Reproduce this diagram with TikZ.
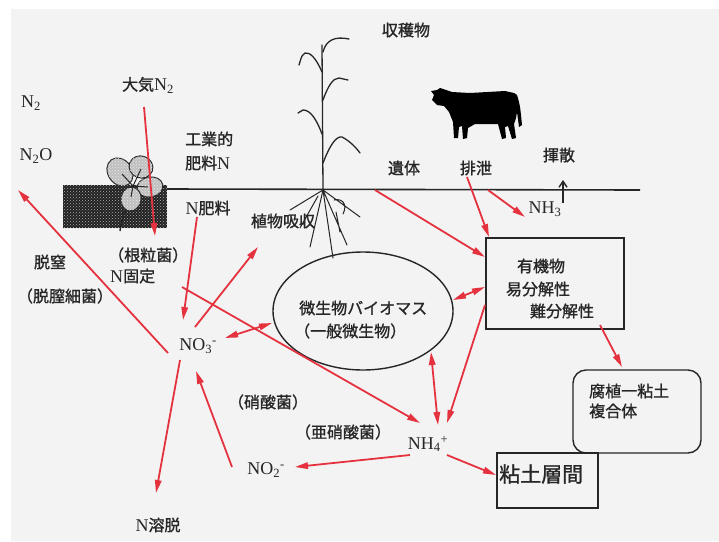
\documentclass[tikz,border=0pt]{standalone}
\usepackage{fontspec}
\setmainfont{Liberation Serif}
\newfontfamily\jpf[FakeBold=1.2]{Noto Sans CJK JP}
\usetikzlibrary{arrows.meta,patterns}
\definecolor{page}{HTML}{F3F3F3}
\definecolor{flow}{HTML}{E5323F}
\definecolor{ink}{HTML}{262626}
\newcommand\chemtxt[1]{{\rmfamily\fontsize{18}{20}\selectfont #1}}

\tikzset{
  jp/.style={font=\jpf\fontsize{16}{19}\selectfont, inner sep=0pt, text=ink},
  chem/.style={font=\rmfamily\fontsize{18}{20}\selectfont, inner sep=0pt, text=ink},
  tip/.tip={Triangle[length=13pt,width=6.5pt]},
  flowarrow/.style={draw=flow, line width=1.8pt, -tip},
  flowboth/.style={draw=flow, line width=1.8pt, tip-tip},
  plantline/.style={draw=ink, line width=1.3pt, line cap=round},
  frame/.style={draw=ink, line width=1.4pt, inner sep=0pt},
  leaf/.style={fill=gray!50, draw=ink, line width=1pt},
}

\begin{document}
\begin{tikzpicture}[x=1pt,y=-1pt]
  % page
  \useasboundingbox (0,0) rectangle (719,541);
  \fill[white] (0,0) rectangle (719,541);
  \fill[page] (11,9) rectangle (719,541);

  % ground surface
  \draw[ink, line width=1.6pt] (167,189) -- (640,190);

  % soil block with clover
  \fill[gray!25!black] (63,185) rectangle (167,228);
  \fill[pattern=crosshatch dots, pattern color=gray!60] (63,185) rectangle (167,228);
  \draw[ink, line width=1.4pt] (133,186) .. controls (128,205) and (122,215) .. (120,231);
  \foreach \cx/\cy/\rx/\ry/\r in {120/172/12/15/35, 141/167/12/11/-20, 150/187/13/10/10, 131/199/10/12/-10}{
    \filldraw[leaf] (\cx,\cy) ellipse [x radius=\rx, y radius=\ry, rotate=\r];
    \fill[pattern=crosshatch dots, pattern color=gray!15] (\cx,\cy) ellipse [x radius=\rx, y radius=\ry, rotate=\r];
  }
  \draw[ink, line width=1pt] (133,186) -- (122,174) (133,186) -- (141,169)
    (133,186) -- (148,187) (133,186) -- (131,197);

  % maize plant
  \draw[plantline] (323,190) -- (322,45);
  \draw[plantline] (323,52) .. controls (326,40) and (335,36) .. (349,39);
  \draw[plantline] (322,72) .. controls (316,58) and (310,52) .. (305,53) .. controls (302,55) .. (299,65);
  \draw[plantline] (323,100) .. controls (328,86) and (333,78) .. (339,78) -- (348,80);
  \draw[plantline] (322,134) .. controls (316,118) and (310,110) .. (303,110) -- (298,113);
  \draw[plantline] (323,163) .. controls (330,145) and (336,136) .. (342,137) .. controls (348,140) and (355,146) .. (360,153);
  % roots
  \draw[plantline, line width=1pt] (323,190) -- (290,210)
    (323,190) -- (310,247) (323,190) -- (333,258) (323,190) -- (347,245)
    (323,190) -- (360,217) (318,196) -- (300,228)
    (334,200) .. controls (342,198) and (348,204) .. (343,214)
    (336,212) -- (340,232);

  % cow
  \fill[black] (440,88) -- (452,92) -- (470,93) -- (505,91) -- (514,93) -- (517,95)
    .. controls (520,105) .. (522,125) -- (519,127) -- (517,112) -- (516,118)
    -- (514,124) -- (516,138) -- (512,139) -- (508,126) -- (505,127) -- (506,138)
    -- (502,139) -- (498,124) -- (475,124) -- (468,128) -- (467,138) -- (463,139)
    -- (462,126) -- (459,127) -- (458,138) -- (454,138) -- (453,122) -- (449,112)
    -- (444,106) -- (437,105) -- (432,100) -- (434,95) -- (431,91) -- (437,90) -- cycle;

  % texts above ground
  \node[chem] (n2) at (31,103) {N\textsubscript{2}};
  \node[chem] (n2o) at (36,156) {N\textsubscript{2}O};
  \node[jp] (atm) at (148,85) {大気\chemtxt{N\textsubscript{2}}};
  \node[jp, anchor=west] (ind1) at (185,139) {工業的};
  \node[jp, anchor=west] (ind2) at (185,163) {肥料\chemtxt{N}};
  \node[jp] (harvest) at (406,30) {収穫物};
  \node[jp] (residue) at (404,168) {遺体};
  \node[jp] (excr) at (476,168) {排泄};
  \node[jp] (volat) at (559,155) {揮散};
  \node[chem] (nh3) at (545,209) {NH\textsubscript{3}};

  % texts below ground
  \node[jp] (nfert) at (208,208) {\chemtxt{N}肥料};
  \node[jp] (uptake) at (283,221) {植物吸収};
  \node[jp, anchor=west] (rhizo) at (108,255) {（根粒菌）};
  \node[jp, anchor=west] (nfix) at (110,276) {\chemtxt{N}固定};
  \node[jp] (denit) at (50,262) {脱窒};
  \node[jp] (denitb) at (65,296) {（脱膣細菌）};
  \node[chem] (no3) at (198,346) {NO\textsubscript{3}\textsuperscript{-}};
  \node[chem] (nh4) at (428,444) {NH\textsubscript{4}\textsuperscript{+}};
  \node[chem] (no2) at (266,470) {NO\textsubscript{2}\textsuperscript{-}};
  \node[jp] (nitrob) at (268,402) {（硝酸菌）};
  \node[jp] (nitros) at (343,432) {（亜硝酸菌）};
  \node[jp] (leach) at (158,525) {\chemtxt{N}溶脱};

  % microbial biomass
  \draw[ink, line width=1.4pt] (363,311) ellipse [x radius=90, y radius=59];
  \coordinate (mb) at (363,311);
  \node[jp, anchor=west] (mb1) at (299,308) {微生物バイオマス};
  \node[jp, anchor=west] (mb2) at (294,331) {（一般微生物）};

  % organic matter
  \node[frame, minimum width=138pt, minimum height=91pt] (om) at (555,283.5) {};
  \node[jp] (om1) at (541,266) {有機物};
  \node[jp] (om2) at (538,289) {易分解性};
  \node[jp] (om3) at (562,311) {難分解性};

  % humus-clay complex and clay interlayer
  \node[frame, rounded corners=13pt, minimum width=128pt, minimum height=83pt] (hum) at (637,411.5) {};
  \node[jp, anchor=west] (hum1) at (589,391) {腐植一粘土};
  \node[jp, anchor=west] (hum2) at (589,411) {複合体};
  \node[frame, fill=page, minimum width=101pt, minimum height=55pt] (clay) at (547.5,480.5) {};
  \node[jp, font=\jpf\fontsize{21}{24}\selectfont, anchor=west] (clay1) at (499,474) {粘土層間};

  % arrow end points
  \coordinate (atmE) at (155,236);   \coordinate (atmS) at (144,107);
  \coordinate (nfS) at (197,217);    \coordinate (nfE) at (183,320);
  \coordinate (no3up) at (195,327);  \coordinate (upE) at (258,247);
  \coordinate (no3r) at (225,338);   \coordinate (mbL) at (272,323);
  \coordinate (fixS) at (182,287);   \coordinate (nh4tl) at (420,423);
  \coordinate (no3dn) at (168,353);  \coordinate (denE) at (18,190);
  \coordinate (resS) at (375,190);   \coordinate (omL1) at (485,257);
  \coordinate (exS) at (467,177);    \coordinate (omT) at (489,237);
  \coordinate (exS2) at (488,190);   \coordinate (nh3E) at (525,217);
  \coordinate (mbR) at (453,300);    \coordinate (omL2) at (485,287);
  \coordinate (omL3) at (485,305);   \coordinate (nh4tr) at (447,423);
  \coordinate (mbB) at (431,352);    \coordinate (nh4t) at (438,425);
  \coordinate (omB) at (600,325);    \coordinate (humT) at (622,367);
  \coordinate (nh4r) at (447,455);   \coordinate (clayL) at (496,475);
  \coordinate (nh4l) at (410,455);   \coordinate (no2r) at (295,467);
  \coordinate (no2l) at (232,467);   \coordinate (no3b) at (196,371);
  \coordinate (no3bl) at (180,360);  \coordinate (leachT) at (156,493);
  \coordinate (nh3T) at (563,203);   \coordinate (volE) at (563,180);

  % nitrogen flows
  \draw[flowarrow] (atmS) -- (atmE);
  \draw[flowarrow] (nfS) -- (nfE);
  \draw[flowarrow] (no3up) -- (upE);
  \draw[flowboth] (no3r) -- (mbL);
  \draw[flowarrow] (fixS) -- (nh4tl);
  \draw[flowarrow] (no3dn) -- (denE);
  \draw[flowarrow] (resS) -- (omL1);
  \draw[flowarrow] (exS) -- (omT);
  \draw[flowarrow] (exS2) -- (nh3E);
  \draw[flowboth] (mbR) -- (omL2);
  \draw[flowarrow] (omL3) -- (nh4tr);
  \draw[flowboth] (mbB) -- (nh4t);
  \draw[flowarrow] (omB) -- (humT);
  \draw[flowarrow] (nh4r) -- (clayL);
  \draw[flowarrow] (nh4l) -- (no2r);
  \draw[flowarrow] (no2l) -- (no3b);
  \draw[flowarrow] (no3bl) -- (leachT);
  \draw[ink, line width=1.4pt, -{Straight Barb[length=6pt,width=8pt]}] (nh3T) -- (volE);
\end{tikzpicture}
\end{document}
